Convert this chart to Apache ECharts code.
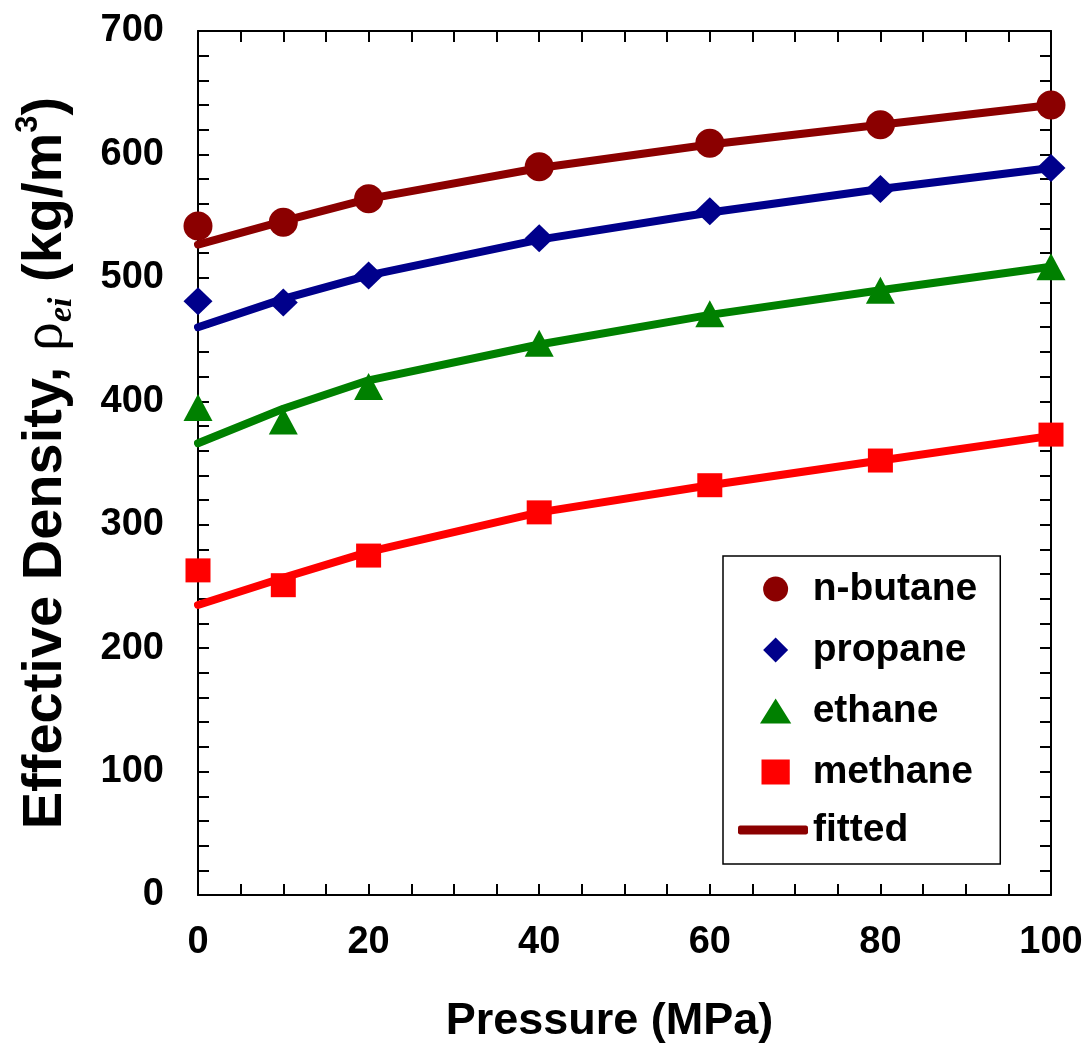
<!DOCTYPE html>
<html>
<head>
<meta charset="utf-8">
<script src="https://cdn.jsdelivr.net/npm/echarts@6/dist/echarts.min.js"></script>
<style>
  html, body { margin: 0; padding: 0; background: #ffffff; }
  #chart { width: 1086px; height: 1047px; }
</style>
</head>
<body>
<div id="chart"></div>
<script>
// Pressure values (MPa) at which densities were evaluated
const pressure = [0, 10, 20, 40, 60, 80, 100];

// Measured effective densities (kg/m3)
const nButane = [542, 545, 564, 590, 609, 624, 640];
const propane = [481, 480, 502, 532, 554, 572, 589];
const ethane  = [395, 384, 412, 447, 471, 490, 509];
const methane = [263, 251, 275, 310, 332, 352, 373];

// Fitted curves (kg/m3)
const nButaneFit = [527, 546, 564, 589, 608, 624, 640];
const propaneFit = [460, 483, 502, 531, 553, 572, 589];
const ethaneFit  = [366, 394, 417, 446, 470, 490, 509];
const methaneFit = [235, 257, 278, 310, 332, 352, 372];

// Axis tick labels
const xTickLabels = [0, 20, 40, 60, 80, 100];
const yTickLabels = [0, 100, 200, 300, 400, 500, 600, 700];

const gasNames = ['n-butane', 'propane', 'ethane', 'methane'];
const colors = ['#8b0000', '#00008b', '#008000', '#ff0000'];

const pairs = (ys) => pressure.map((p, i) => [p, ys[i]]);

const FONT = 'Liberation Sans, Arial, sans-serif';
const diamondPath = 'path://M0,-10 L10,0 L0,10 L-10,0 Z';
const trianglePath = 'path://M0,20 L12.5,0 L25,20 Z';
const squarePath = 'path://M0,0 L26,0 L26,23 L0,23 Z';

const tickStyle = { color: '#000', width: 2 };

function xAxisDef(pos, showLabel) {
  return {
    type: 'value', position: pos, gridIndex: 0,
    min: xTickLabels[0], max: xTickLabels[xTickLabels.length - 1],
    interval: xTickLabels[1] - xTickLabels[0],
    axisLine: { show: true, onZero: false, lineStyle: { color: '#000', width: 2 } },
    axisTick: { show: true, inside: true, length: 11, lineStyle: tickStyle },
    minorTick: { show: true, splitNumber: 4, length: 11, lineStyle: tickStyle },
    splitLine: { show: false },
    axisLabel: {
      show: showLabel, margin: 29, color: '#000',
      fontFamily: FONT, fontWeight: 'bold', fontSize: 38
    }
  };
}

function yAxisDef(pos, showLabel) {
  return {
    type: 'value', position: pos, gridIndex: 0,
    min: yTickLabels[0], max: yTickLabels[yTickLabels.length - 1],
    interval: yTickLabels[1] - yTickLabels[0],
    axisLine: { show: true, onZero: false, lineStyle: { color: '#000', width: 2 } },
    axisTick: { show: true, inside: true, length: 11, lineStyle: tickStyle },
    minorTick: { show: true, splitNumber: 5, length: 11, lineStyle: tickStyle },
    splitLine: { show: false },
    axisLabel: {
      show: showLabel, margin: 34, color: '#000',
      fontFamily: FONT, fontWeight: 'bold', fontSize: 38
    }
  };
}

const xBottom = xAxisDef('bottom', true);
xBottom.name = 'Pressure (MPa)';
xBottom.nameLocation = 'middle';
xBottom.nameGap = 104;
xBottom.nameTextStyle = {
  fontFamily: FONT, fontWeight: 'bold', fontSize: 45, color: '#000',
  padding: [0, 30, 0, 0]
};

const yLeft = yAxisDef('left', true);
yLeft.name = '{t|Effective Density, }{rho|ρ}{sub|ei}{t| (kg/m}{sup|3}{t|)}';
yLeft.nameLocation = 'middle';
yLeft.nameGap = 119;
yLeft.nameTextStyle = {
  color: '#000',
  rich: {
    t:   { fontFamily: FONT, fontWeight: 'bold', fontSize: 56, lineHeight: 66, verticalAlign: 'middle', color: '#000' },
    rho: { fontFamily: 'Liberation Serif, serif', fontSize: 58, lineHeight: 66, verticalAlign: 'middle', color: '#000' },
    sub: { fontFamily: 'Liberation Serif, serif', fontStyle: 'italic', fontWeight: 'bold', fontSize: 34, lineHeight: 34, verticalAlign: 'bottom', color: '#000' },
    sup: { fontFamily: FONT, fontWeight: 'bold', fontSize: 31, lineHeight: 31, verticalAlign: 'top', color: '#000' }
  }
};

const markerSeries = [
  { name: gasNames[0], data: nButane, symbol: 'circle', symbolSize: 29 },
  { name: gasNames[1], data: propane, symbol: 'diamond', symbolSize: [29, 28] },
  { name: gasNames[2], data: ethane, symbol: 'triangle', symbolSize: [29, 27] },
  { name: gasNames[3], data: methane, symbol: 'rect', symbolSize: [25, 24] }
].map((s, i) => ({
  type: 'scatter', name: s.name, data: pairs(s.data),
  symbol: s.symbol, symbolSize: s.symbolSize,
  itemStyle: { color: colors[i], opacity: 1 },
  z: 5, silent: true
}));

const fitSeries = [nButaneFit, propaneFit, ethaneFit, methaneFit].map((ys, i) => ({
  type: 'line', name: 'fitted', data: pairs(ys),
  showSymbol: false, symbol: 'none', smooth: false,
  lineStyle: { color: colors[i], width: 8, cap: 'round', join: 'round' },
  itemStyle: { color: colors[i] },
  z: 3, silent: true
}));

const legendText = { fontFamily: FONT, fontWeight: 'bold', fontSize: 39, color: '#000', lineHeight: 40 };

const option = {
  backgroundColor: '#ffffff',
  animation: false,
  grid: { left: 198, right: 35, top: 31, bottom: 152, containLabel: false, outerBoundsMode: 'none' },
  xAxis: [xBottom, xAxisDef('top', false)],
  yAxis: [yLeft, yAxisDef('right', false)],
  legend: [
    {
      orient: 'vertical', left: 723, top: 556,
      padding: [13, 23, 72, 37],
      itemWidth: 64, itemHeight: 25, itemGap: 21,
      borderColor: '#000', borderWidth: 1.5, backgroundColor: '#ffffff',
      symbolKeepAspect: true, selectedMode: false,
      textStyle: legendText,
      data: [
        { name: gasNames[0], icon: 'circle' },
        { name: gasNames[1], icon: diamondPath },
        { name: gasNames[2], icon: trianglePath },
        { name: gasNames[3], icon: squarePath }
      ],
      z: 6
    },
    {
      orient: 'vertical', left: 738, top: 810, padding: 0,
      itemWidth: 70, itemHeight: 9, selectedMode: false,
      textStyle: legendText,
      data: [{ name: 'fitted', icon: 'roundRect', itemStyle: { borderWidth: 0 } }],
      z: 7
    }
  ],
  series: fitSeries.concat(markerSeries)
};

const chart = echarts.init(document.getElementById('chart'), null, { renderer: 'canvas' });
chart.setOption(option);
</script>
</body>
</html>
